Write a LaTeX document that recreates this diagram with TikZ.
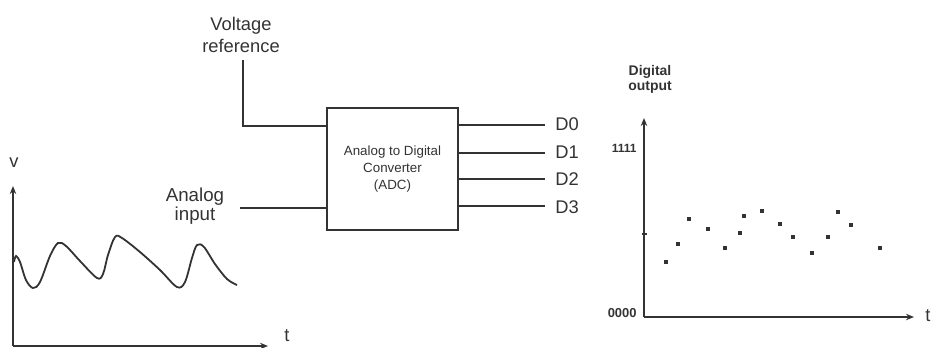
\documentclass[tikz,border=0pt]{standalone}
\usepackage{fontspec}
\setmainfont{Liberation Sans}
\usetikzlibrary{arrows.meta}
\definecolor{ink}{rgb}{0.2,0.2,0.2}
\begin{document}
\begin{tikzpicture}[x=0.5bp,y=-0.5bp,
  lbl/.style={font=\fontsize{9.2}{11}\selectfont, text=ink, inner sep=0pt, align=center},
  dlbl/.style={font=\fontsize{9.2}{11}\selectfont, text=ink, inner sep=0pt, anchor=west},
  small/.style={font=\bfseries\fontsize{6}{7}\selectfont, text=ink, inner sep=0pt, anchor=east},
  wire/.style={draw=ink, line width=0.8bp},
  axis/.style={draw=ink, line width=1bp},
  tip/.style={-{Stealth[length=4bp,width=3.2bp]}},
  sample/.style={fill=ink, draw=none, rectangle, minimum width=2.3bp, minimum height=1.8bp, inner sep=0pt}
]
\useasboundingbox (0,0) rectangle (932,347);

% ---- labels ----
\node[lbl] (vref) at (241,34.5) {Voltage\\reference};
\node[lbl, font=\fontsize{9.4}{9.5}\selectfont] (ain) at (195,206.5) {Analog\\input};
\node[lbl, font=\bfseries\fontsize{7}{7.5}\selectfont] (dout) at (650,79) {Digital\\output};

% ---- ADC block ----
\node[draw=ink, line width=0.8bp, minimum width=65.5bp, minimum height=61bp, inner sep=0pt,
      align=center, text=ink, font=\fontsize{6.7}{8.75}\selectfont] (adc) at (392.5,169)
      {Analog to Digital\\Converter\\(ADC)};

% ---- inputs ----
\coordinate (vtop) at (243,60);
\coordinate (vin) at (327.5,126);
\draw[wire] (vtop) |- (vin);
\coordinate (ainstart) at (240,208);
\coordinate (ainend) at (327.5,208);
\draw[wire] (ainstart) -- (ainend);

% ---- outputs ----
\node[dlbl] (d0) at (555,124) {D0};
\node[dlbl] (d1) at (555,152) {D1};
\node[dlbl] (d2) at (555,179) {D2};
\node[dlbl] (d3) at (555,207) {D3};
\coordinate (o0) at (458,125);
\coordinate (o1) at (458,153);
\coordinate (o2) at (458,179);
\coordinate (o3) at (458,206);
\draw[wire, shorten >=5bp] (o0) -- (o0 -| d0.west);
\draw[wire, shorten >=5bp] (o1) -- (o1 -| d1.west);
\draw[wire, shorten >=5bp] (o2) -- (o2 -| d2.west);
\draw[wire, shorten >=5bp] (o3) -- (o3 -| d3.west);

% ---- analog graph ----
\node[lbl] (vlab) at (14,163) {v};
\node[lbl] (tlab1) at (287,336) {t};
\coordinate (aorig) at (13,346);
\coordinate (ayend) at (13,186);
\coordinate (axend) at (268,346);
\draw[axis, tip] (aorig) -- (ayend);
\draw[axis, tip] (aorig) -- (axend);
\draw[draw=ink, line width=0.9bp] plot[smooth, tension=0.55] coordinates
  {(14,262) (16,256) (20,262) (26,280) (33,288) (40,282) (50,256) (58,243) (66,246) (80,261) (97,278) (103,274) (108,255) (115,237) (122,238) (140,252) (160,270) (177,287) (185,282) (192,258) (197,245) (204,247) (215,264) (227,279) (237,285)};

% ---- digital graph ----
\coordinate (dorig) at (644,317);
\coordinate (dyend) at (644,118);
\coordinate (dxend) at (914,317);
\draw[axis, tip] (dorig) -- (dyend);
\draw[axis, tip] (dorig) -- (dxend);
\draw[axis] (641.5,234) -- (646.5,234);
\node[small] (l1111) at (637,148) {1111};
\node[small, font=\bfseries\fontsize{6.5}{7}\selectfont] (l0000) at (637,313) {0000};
\node[lbl] (tlab2) at (928,316) {t};

\foreach \x/\y in {666/262, 678/244, 689/219, 708/229, 725/248, 740/233, 744/216, 762/211,
                   780/224, 793/237, 812/253, 828/237, 838/212, 851/225, 880/248}
  \node[sample] at (\x,\y) {};
\end{tikzpicture}
\end{document}
